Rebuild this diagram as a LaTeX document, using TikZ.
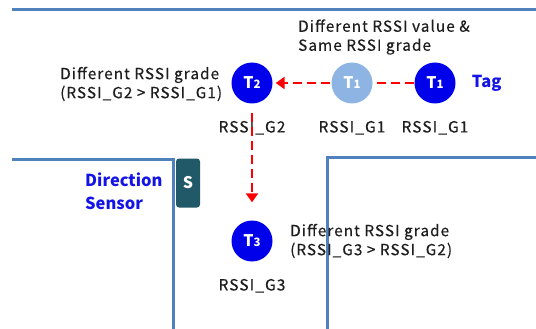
\documentclass[tikz,border=0pt]{standalone}
\usepackage{fontspec}
\setmainfont{Noto Sans CJK KR}
\newfontfamily\wfont{Noto Sans CJK KR}[LetterSpace=7, FakeBold=0.35]
\usetikzlibrary{positioning,arrows.meta,backgrounds}
\definecolor{ink}{RGB}{30,30,30}
\definecolor{wallblue}{RGB}{79,129,189}
\definecolor{tagblue}{RGB}{0,0,235}
\definecolor{taglight}{RGB}{142,180,227}
\definecolor{labelblue}{RGB}{20,20,230}
\definecolor{sensorteal}{RGB}{33,89,104}
\definecolor{movered}{RGB}{255,0,0}
\tikzset{
  wall/.style={draw=wallblue, line width=3pt},
  tag/.style={circle, fill=tagblue, minimum size=41pt, inner sep=0pt, text=white,
    font=\bfseries\fontsize{16}{16}\selectfont},
  ghost/.style={tag, fill=taglight},
  rssi/.style={text=ink, font=\wfont\fontsize{15.5}{17}\selectfont, inner sep=0pt},
  note/.style={text=ink, align=left, font=\wfont\fontsize{15.3}{19}\selectfont, inner sep=0pt},
  bluetxt/.style={text=labelblue, align=left, font=\bfseries\fontsize{16.5}{23}\selectfont,
    inner sep=0pt},
  sensor/.style={fill=sensorteal, rounded corners=3pt, minimum width=24pt,
    minimum height=49pt, text=white, font=\bfseries\fontsize{16}{16}\selectfont},
  move/.style={draw=movered, line width=2.8pt, dash pattern=on 9pt off 5pt,
    -{Triangle[length=9pt, width=12pt]}},
}
\newcommand{\tg}[1]{T{\fontsize{11.5}{11.5}\selectfont #1}}

\begin{document}
\begin{tikzpicture}[x=1pt, y=-1pt]
  \useasboundingbox (0,0) rectangle (536,329);
  % walls
  \draw[wall] (12,10) -- (536,10);
  \draw[wall] (12,159) -- (173,159) -- (173,329);
  \draw[wall] (327,329) -- (327,157) -- (536,157);
  % tags
  \node[tag] (t2) at (252,83) {\tg{2}};
  \node[ghost] (t1a) at (352,83) {\tg{1}};
  \node[tag] (t1b) at (435,83) {\tg{1}};
  \node[tag] (t3) at (252,241) {\tg{3}};
  \node[rssi, below=17pt of t2] (g2) {RSSI\_G2};
  \node[rssi, below=17pt of t1a] (g1a) {RSSI\_G1};
  \node[rssi, below=17pt of t1b] (g1b) {RSSI\_G1};
  \node[rssi, below=17pt of t3] (g3) {RSSI\_G3};
  \node[bluetxt, right=16pt of t1b] (tagtxt) {Tag};
  % sensor
  \node[sensor] (s) at (188,183) {S};
  \node[bluetxt, anchor=west] (dirtxt) at (85,191) {Direction\\Sensor};
  % notes
  \node[note, anchor=west] (n1) at (298,37) {Different RSSI value \&\\Same RSSI grade};
  \node[note, anchor=west] (n2) at (60,84) {Different RSSI grade\\(RSSI\_G2 > RSSI\_G1)};
  \node[note, anchor=west] (n3) at (290,241) {Different RSSI grade\\(RSSI\_G3 > RSSI\_G2)};
  % movement
  \begin{scope}[on background layer]
    \draw[move, shorten >=3pt] (t1b) -- (t2);
  \end{scope}
  \draw[move, shorten <=9pt, shorten >=18pt] (t2) -- (t3);
\end{tikzpicture}
\end{document}
